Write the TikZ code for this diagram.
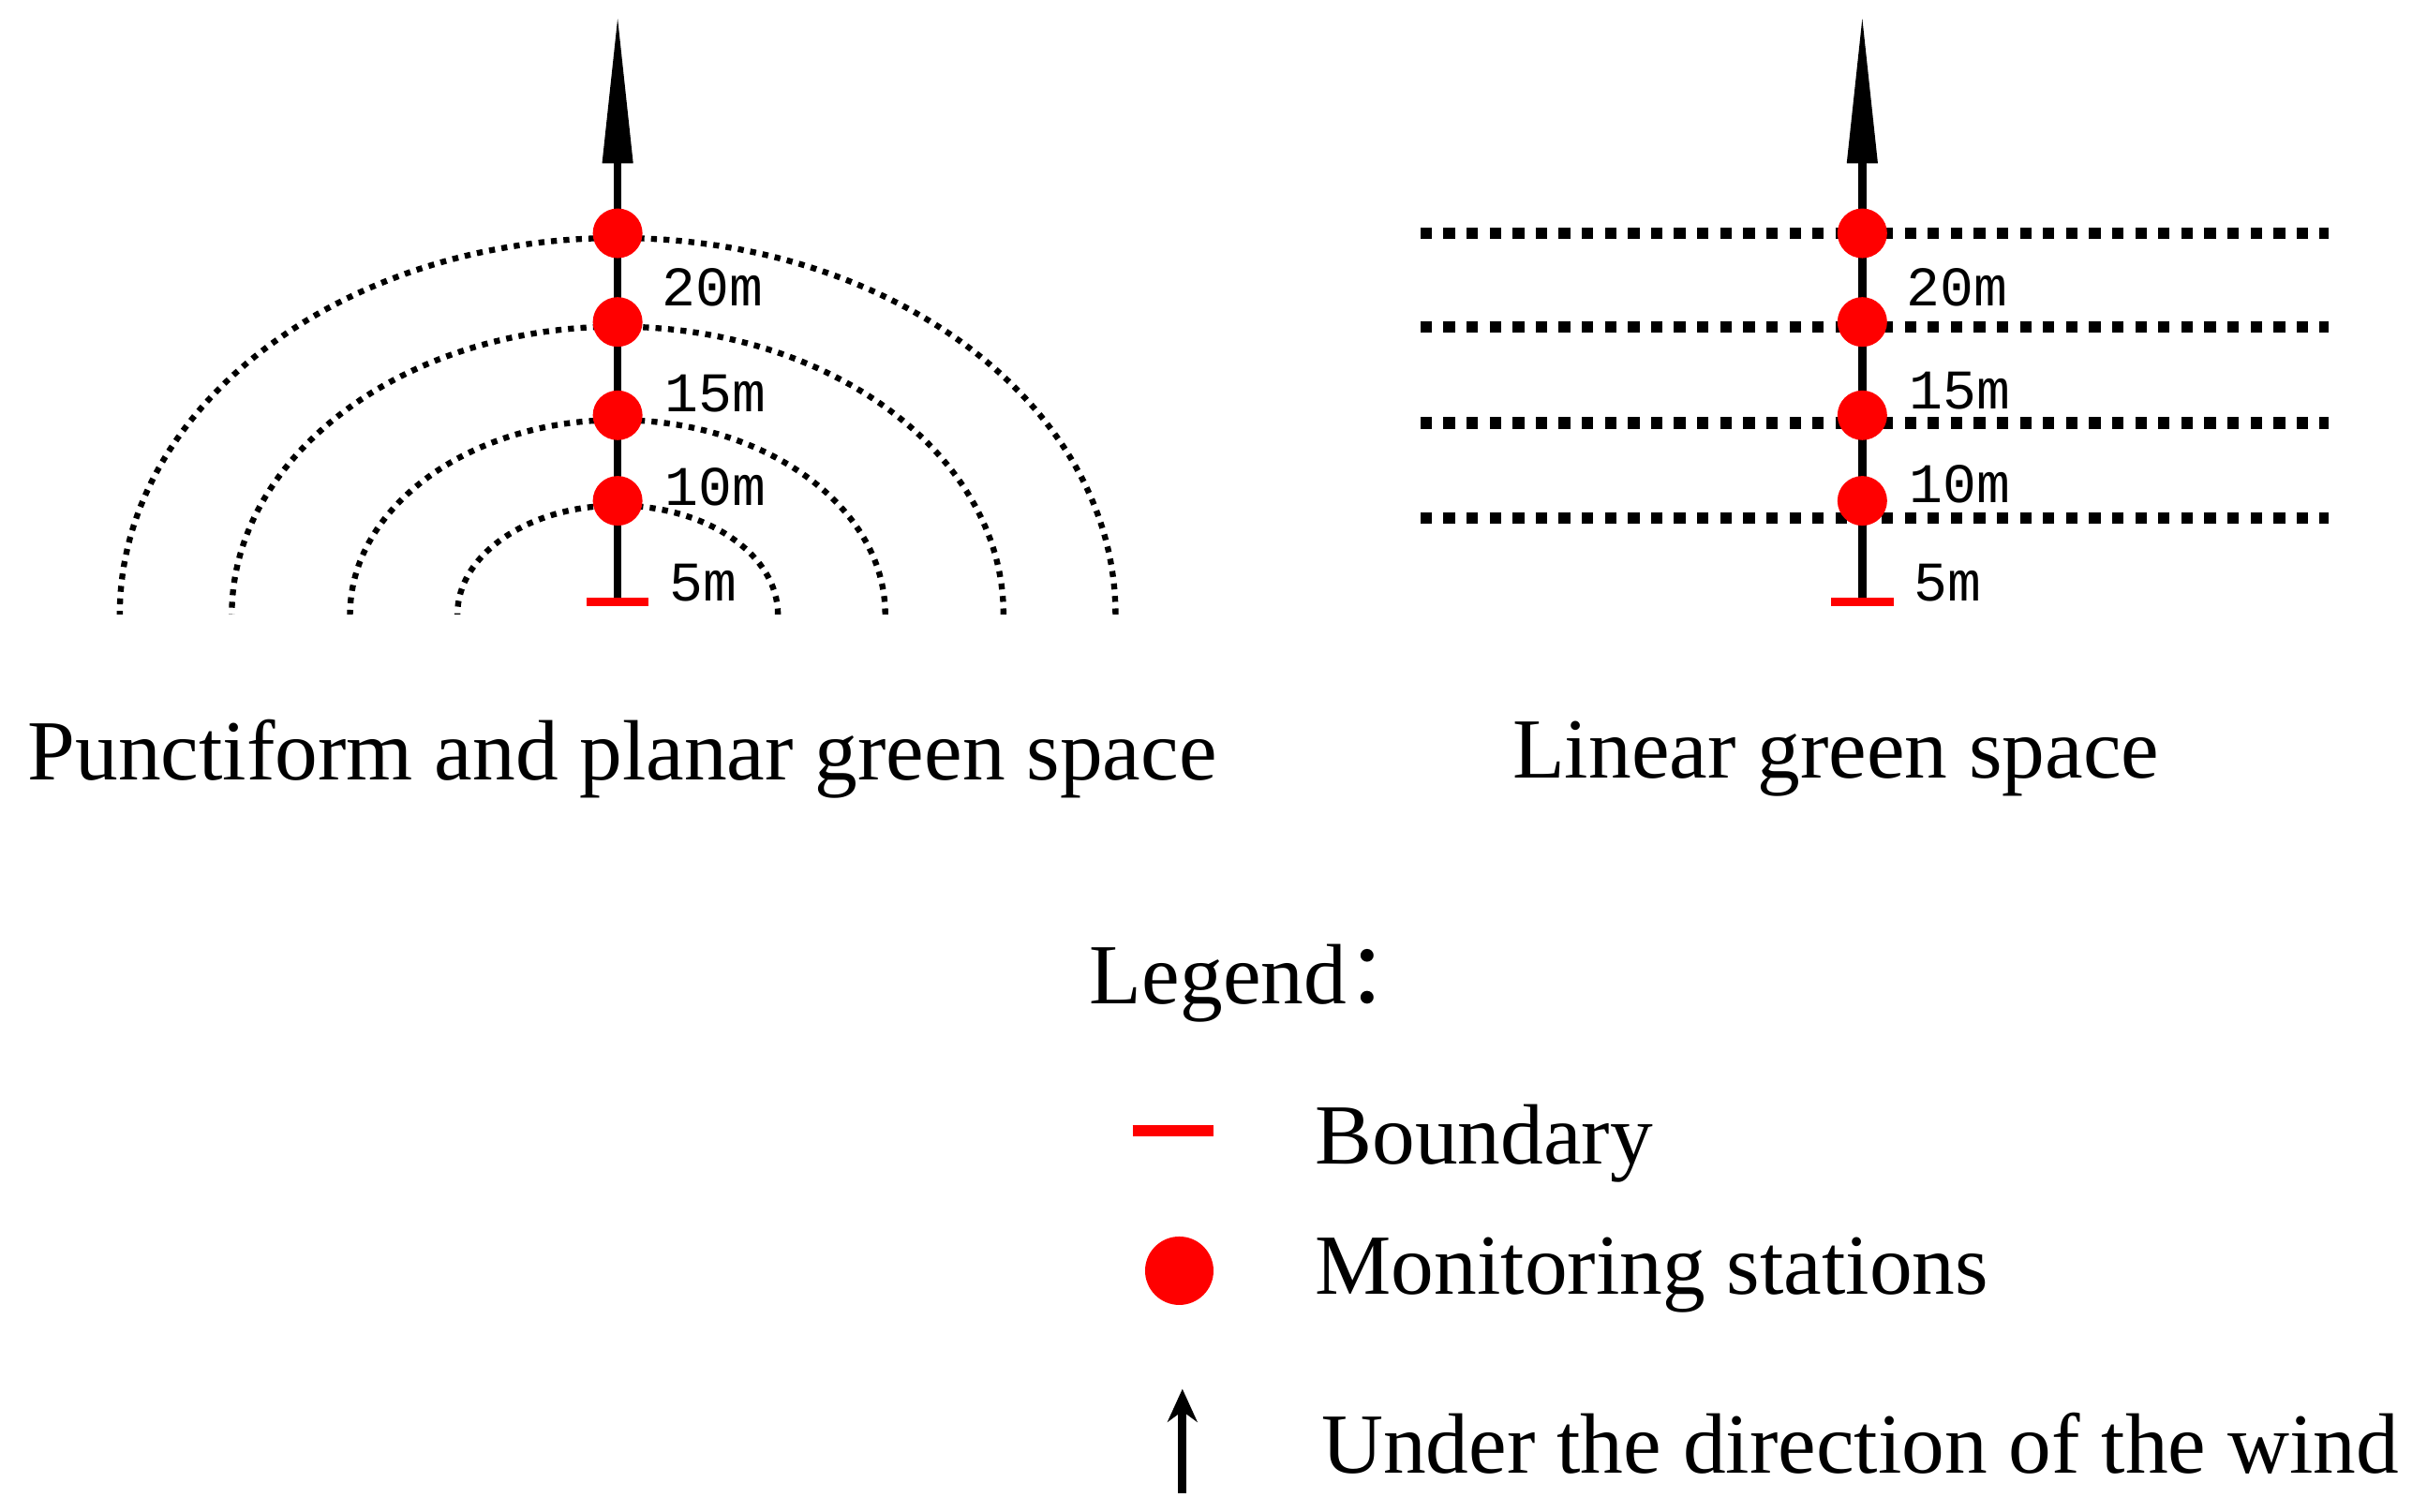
\documentclass[tikz,border=0pt]{standalone}
\usepackage{fontspec}
\usetikzlibrary{arrows.meta}
\setmainfont{Liberation Serif}
\newfontfamily\lab{Liberation Mono}
\newfontfamily\cjk{Noto Sans CJK SC}
\begin{document}
\begin{tikzpicture}[x=0.016603cm,y=-0.016603cm,
  st/.style={circle,fill=red,inner sep=0pt,minimum size=0.53cm},
  bd/.style={red,line width=2.6pt},
  ax/.style={line width=2.4pt},
  tip/.style={fill=black},
  arcd/.style={dotted,line width=1.8pt},
  hd/.style={dash pattern=on 3.5pt off 3.5pt,line width=3.5pt},
  lb/.style={font=\lab\fontsize{17}{20}\selectfont,anchor=west,inner sep=0pt},
  tt/.style={font=\fontsize{26}{30}\selectfont,inner sep=0pt}]
\useasboundingbox (0,0) rectangle (1560,972);
% left
\foreach \rx/\ry in {103/70,172/125,248/185,320/242}
  \draw[arcd] (397+\rx,395) arc[start angle=0,end angle=-180,x radius=\rx,y radius=\ry];
\coordinate (lb0) at (397,385);
\coordinate (lt) at (397,105);
\draw[ax] (lb0) -- (lt);
\fill[tip] (387,105) -- (397,12) -- (407,105) -- cycle;
\draw[bd] (377,387) -- (417,387);
\foreach \y/\n in {150/a,207/b,267/c,322/d} \node[st] (l\n) at (397,\y) {};
\node[lb] at (425,185) {20m};
\node[lb] at (427,253) {15m};
\node[lb] at (427,313) {10m};
\node[lb] at (430,375) {5m};
\node[tt] at (400,488) {Punctiform and planar green space};
% right
\foreach \y in {150,210,272,333} \draw[hd] (913,\y) -- (1497,\y);
\coordinate (rb0) at (1197,385);
\draw[ax] (rb0) -- (1197,105);
\fill[tip] (1187,105) -- (1197,12) -- (1207,105) -- cycle;
\draw[bd] (1177,387) -- (1217,387);
\foreach \y/\n in {150/a,207/b,267/c,322/d} \node[st] (r\n) at (1197,\y) {};
\node[lb] at (1225,185) {20m};
\node[lb] at (1227,251) {15m};
\node[lb] at (1227,311) {10m};
\node[lb] at (1230,375) {5m};
\node[tt] at (1180,488) {Linear green space};
% legend
\node[tt,anchor=west] at (700,632) {Legend{\cjk ：}};
\draw[bd,line width=3.5pt] (728,727) -- (780,727);
\node[tt,anchor=west] at (845,735) {Boundary};
\node[circle,fill=red,minimum size=0.73cm,inner sep=0pt] (lg) at (758,817) {};
\node[tt,anchor=west] at (845,820) {Monitoring stations};
\coordinate (wa) at (760,960);
\coordinate (wb) at (760,893);
\draw[line width=2.6pt,-{Stealth[length=10pt,width=9pt]}] (wa) -- (wb);
\node[tt,anchor=west] at (849,928) {Under the direction of the wind};
\end{tikzpicture}
\end{document}
